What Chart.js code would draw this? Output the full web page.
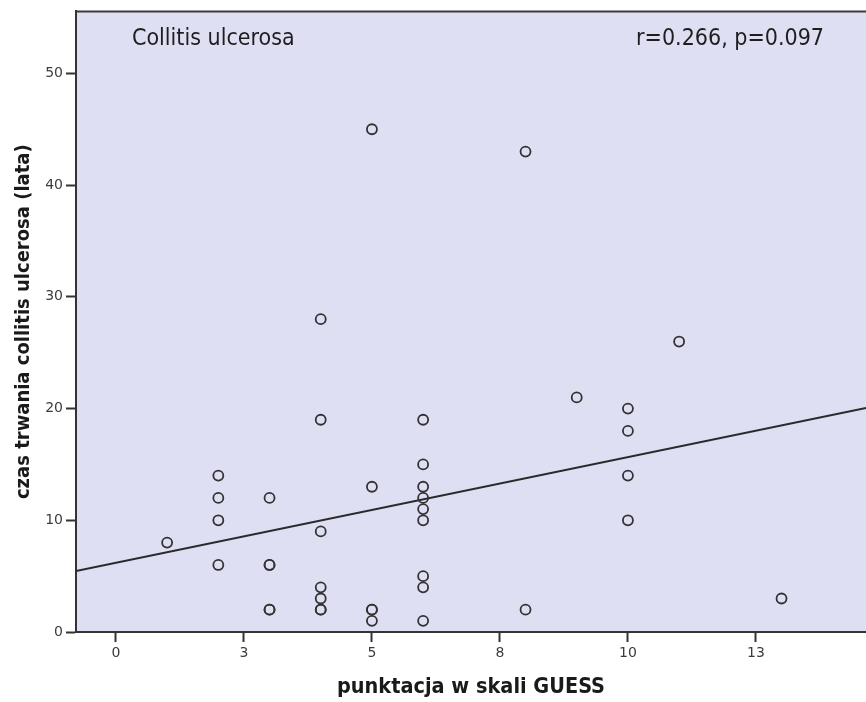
<!DOCTYPE html>
<html>
<head>
<meta charset="utf-8">
<script src="https://cdn.jsdelivr.net/npm/chart.js@4.4.1/dist/chart.umd.min.js"></script>
<style>
    body { margin: 0; background: #ffffff; }
    #wykres { display: block; }
</style>
</head>
<body>
<canvas id="wykres" width="866" height="702"></canvas>
<script>
// punktacja GUESS (x) i czas trwania choroby w latach (y)
const punktyGuess = [1, 2, 2, 2, 2, 3, 3, 3, 3, 3, 4, 4, 4, 4, 4, 4, 4, 5, 5, 5, 5, 5,
    6, 6, 6, 6, 6, 6, 6, 6, 6, 8, 8, 9, 10, 10, 10, 10, 11, 13];
const czasTrwania = [8, 6, 10, 12, 14, 2, 2, 6, 6, 12, 2, 2, 3, 4, 9, 19, 28, 1, 2, 2, 13, 45,
    1, 4, 5, 10, 11, 12, 13, 15, 19, 2, 43, 21, 10, 14, 18, 20, 26, 3];

// linia regresji (końce)
const liniaX = [-0.78, 14.65];
const liniaY = [5.45, 20.05];

const tickiX = [0, 2.5, 5, 7.5, 10, 12.5];
const etykietyX = ['0', '3', '5', '8', '10', '13'];
const tickiY = [0, 10, 20, 30, 40, 50];

const tytul = 'Collitis ulcerosa';
const statystyka = 'r=0.266, p=0.097';

const punkty = punktyGuess.map((x, i) => ({ x: x, y: czasTrwania[i] }));
const linia = liniaX.map((x, i) => ({ x: x, y: liniaY[i] }));

const tloWykresu = {
    id: 'tloWykresu',
    beforeDraw(chart) {
        const { ctx, chartArea } = chart;
        ctx.save();
        ctx.fillStyle = '#dfdff4';
        ctx.fillRect(chartArea.left, chartArea.top, chartArea.right - chartArea.left, chartArea.bottom - chartArea.top);
        ctx.strokeStyle = '#3a3a3a';
        ctx.lineWidth = 2;
        ctx.beginPath();
        ctx.moveTo(chartArea.left, chartArea.top);
        ctx.lineTo(chartArea.right, chartArea.top);
        ctx.stroke();
        ctx.restore();
    },
    afterDraw(chart) {
        const { ctx, chartArea } = chart;
        ctx.save();
        ctx.fillStyle = '#1e1e1e';
        ctx.font = '23px "DejaVu Sans Condensed", "DejaVu Sans"';
        ctx.textBaseline = 'alphabetic';
        ctx.textAlign = 'left';
        ctx.fillText(tytul, chartArea.left + 56, chartArea.top + 34);
        ctx.textAlign = 'right';
        ctx.fillText(statystyka, chartArea.right - 42, chartArea.top + 34);
        ctx.restore();
    }
};

const config = {
    type: 'scatter',
    data: {
        datasets: [{
            label: 'pacjenci',
            data: punkty,
            pointStyle: 'circle',
            pointRadius: 5,
            pointHoverRadius: 5,
            pointBorderWidth: 1.8,
            pointBorderColor: '#333333',
            pointBackgroundColor: 'rgba(0,0,0,0)',
            order: 1
        }, {
            label: 'regresja',
            type: 'line',
            data: linia,
            borderColor: '#2a2a2a',
            borderWidth: 2,
            pointRadius: 0,
            fill: false,
            order: 2
        }]
    },
    options: {
        responsive: false,
        animation: false,
        layout: {
            autoPadding: false,
            padding: { top: 8, right: 0, bottom: 0, left: 0 }
        },
        plugins: {
            legend: { display: false },
            tooltip: { enabled: false }
        },
        scales: {
            x: {
                type: 'linear',
                min: liniaX[0],
                max: liniaX[1],
                afterBuildTicks: (scale) => {
                    scale.ticks = tickiX.map(v => ({ value: v }));
                },
                afterFit: (scale) => {
                    scale.height = 70;
                    scale.paddingLeft = 0;
                    scale.paddingRight = 0;
                },
                ticks: {
                    autoSkip: false,
                    maxRotation: 0,
                    padding: 3,
                    color: '#3c3c3c',
                    font: { family: '"DejaVu Sans"', size: 14 },
                    callback: (value, index) => etykietyX[index]
                },
                grid: {
                    drawOnChartArea: false,
                    drawTicks: true,
                    tickLength: 10,
                    tickColor: '#333333',
                    tickWidth: 2
                },
                border: { display: true, color: '#333333', width: 2 },
                title: {
                    display: true,
                    text: 'punktacja w skali GUESS',
                    color: '#1a1a1a',
                    font: { family: '"DejaVu Sans Condensed", "DejaVu Sans"', size: 21.5, weight: 'bold' },
                    padding: { top: 0, bottom: 2 }
                }
            },
            y: {
                type: 'linear',
                min: 0,
                max: 55.55,
                afterBuildTicks: (scale) => {
                    scale.ticks = tickiY.map(v => ({ value: v }));
                },
                afterFit: (scale) => { scale.width = 76; },
                ticks: {
                    padding: 3,
                    color: '#3c3c3c',
                    font: { family: '"DejaVu Sans"', size: 14 }
                },
                grid: {
                    drawOnChartArea: false,
                    drawTicks: true,
                    tickLength: 10,
                    tickColor: '#333333',
                    tickWidth: 2
                },
                border: { display: true, color: '#333333', width: 2 },
                title: {
                    display: true,
                    text: 'czas trwania collitis ulcerosa (lata)',
                    color: '#1a1a1a',
                    font: { family: '"DejaVu Sans Condensed", "DejaVu Sans"', size: 20, weight: 'bold' },
                    padding: { top: 12, bottom: 0 }
                }
            }
        }
    },
    plugins: [tloWykresu]
};

const wykres = new Chart(document.getElementById('wykres').getContext('2d'), config);
</script>
</body>
</html>
